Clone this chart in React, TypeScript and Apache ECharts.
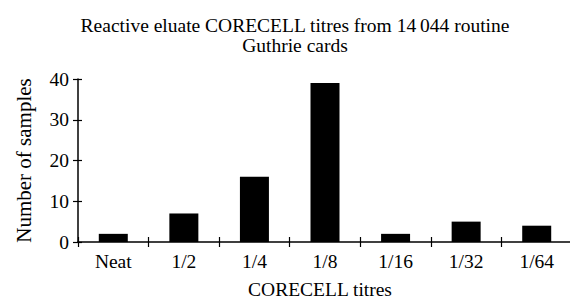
import React, { useEffect, useRef } from "react";
import * as echarts from "echarts";

const categories = ["Neat", "1/2", "1/4", "1/8", "1/16", "1/32", "1/64"];
const counts = [2, 7, 16, 39, 2, 5, 4];
const titleText = "Reactive eluate CORECELL titres from 14\u2009044 routine\nGuthrie cards";
const xName = "CORECELL titres";
const yName = "Number of samples";

export default function App() {
  const ref = useRef<HTMLDivElement>(null);
  useEffect(() => {
    document.body.style.margin = "0";
    const chart = echarts.init(ref.current!, null, { renderer: "svg" });
    const font = "Liberation Serif";
    const fs = 19.5;
    chart.setOption({
      animation: false,
      textStyle: { fontFamily: font, color: "#000" },
      title: {
        text: titleText,
        left: 290,
        textAlign: "center",
        top: 10,
        textStyle: { fontFamily: font, fontSize: fs, fontWeight: "normal", color: "#000", lineHeight: 20 },
      },
      grid: { left: 78, top: 79, width: 494, height: 163, outerBoundsMode: "none", containLabel: false },
      xAxis: [
        {
          type: "category",
          data: categories,
          position: "bottom",
          axisLine: { lineStyle: { color: "#000", width: 1.5 } },
          axisTick: { show: true, length: 5, lineStyle: { color: "#000", width: 1.2 } },
          axisLabel: { color: "#000", fontFamily: font, fontSize: fs, margin: 9 },
          name: xName,
          nameLocation: "middle",
          nameGap: 37,
          nameTextStyle: { color: "#000", fontFamily: font, fontSize: fs, padding: [0, 10, 0, 0] },
        },
        {
          type: "category",
          data: categories,
          position: "bottom",
          axisLine: { show: false },
          axisTick: { show: true, inside: true, length: 5, lineStyle: { color: "#000", width: 1.2 } },
          axisLabel: { show: false },
        },
      ],
      yAxis: [
        {
          type: "value",
          min: 0,
          max: 40,
          interval: 10,
          splitLine: { show: false },
          axisLine: { show: true, lineStyle: { color: "#000", width: 1.5 } },
          axisTick: { show: true, length: 5, lineStyle: { color: "#000", width: 1.2 } },
          axisLabel: { color: "#000", fontFamily: font, fontSize: fs, margin: 9 },
          name: yName,
          nameLocation: "middle",
          nameGap: 44,
          nameTextStyle: { color: "#000", fontFamily: font, fontSize: 21 },
        },
        {
          type: "value",
          min: 0,
          max: 40,
          interval: 10,
          position: "left",
          splitLine: { show: false },
          axisLine: { show: false },
          axisTick: { show: true, inside: true, length: 4, lineStyle: { color: "#000", width: 1.2 } },
          axisLabel: { show: false },
        },
      ],
      series: [
        {
          type: "bar",
          data: counts,
          barWidth: 29,
          itemStyle: { color: "#000" },
          xAxisIndex: 0,
          yAxisIndex: 0,
        },
      ],
    });
    return () => chart.dispose();
  }, []);
  return <div ref={ref} style={{ width: 570, height: 299 }} />;
}
